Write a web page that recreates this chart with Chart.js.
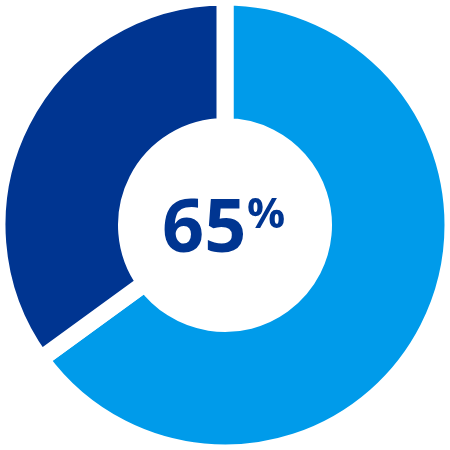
<!DOCTYPE html>
<html>
<head>
<meta charset="utf-8">
<script src="https://cdn.jsdelivr.net/npm/chart.js@4"></script>
<style>
html,body{margin:0;padding:0;background:#fff;}
#wrap{position:relative;width:450px;height:450px;}
</style>
</head>
<body>
<div id="wrap"><canvas id="c" width="450" height="450"></canvas></div>
<script>
const categories = ['Share', 'Rest'];
const values = [65, 35];
const colors = ['#009BEA', '#003591'];
const centerNumber = '65';
const centerSymbol = '%';

function drawFit(ctx, text, cx, cy, box, font) {
  ctx.save();
  ctx.font = font;
  ctx.textAlign = 'left';
  ctx.textBaseline = 'alphabetic';
  const m = ctx.measureText(text);
  const w = m.actualBoundingBoxLeft + m.actualBoundingBoxRight;
  const h = m.actualBoundingBoxAscent + m.actualBoundingBoxDescent;
  const sx = (box[1] - box[0]) / w;
  const sy = (box[3] - box[2]) / h;
  ctx.translate(cx + box[0] + m.actualBoundingBoxLeft * sx, cy + box[2] + m.actualBoundingBoxAscent * sy);
  ctx.scale(sx, sy);
  ctx.fillText(text, 0, 0);
  ctx.restore();
}

const centerText = {
  id: 'centerText',
  afterDraw(chart) {
    const ctx = chart.ctx;
    const arc = chart.getDatasetMeta(0).data[0];
    ctx.fillStyle = '#003591';
    drawFit(ctx, centerNumber, arc.x, arc.y, [-60.7, 18.3, -27, 27.7], 'bold 100px "Open Sans"');
    drawFit(ctx, centerSymbol, arc.x, arc.y, [23.3, 59.3, -27.3, 3.3], 'bold 100px "Open Sans"');
  }
};

new Chart(document.getElementById('c'), {
  type: 'doughnut',
  data: {
    labels: categories,
    datasets: [{
      data: values,
      backgroundColor: colors,
      borderColor: '#ffffff',
      borderWidth: 17,
      borderAlign: 'center',
      clip: false
    }]
  },
  options: {
    responsive: false,
    animation: false,
    radius: 228,
    cutout: '43.2%',
    layout: { padding: 0 },
    plugins: { legend: { display: false }, tooltip: { enabled: false } }
  },
  plugins: [centerText]
});
</script>
</body>
</html>
